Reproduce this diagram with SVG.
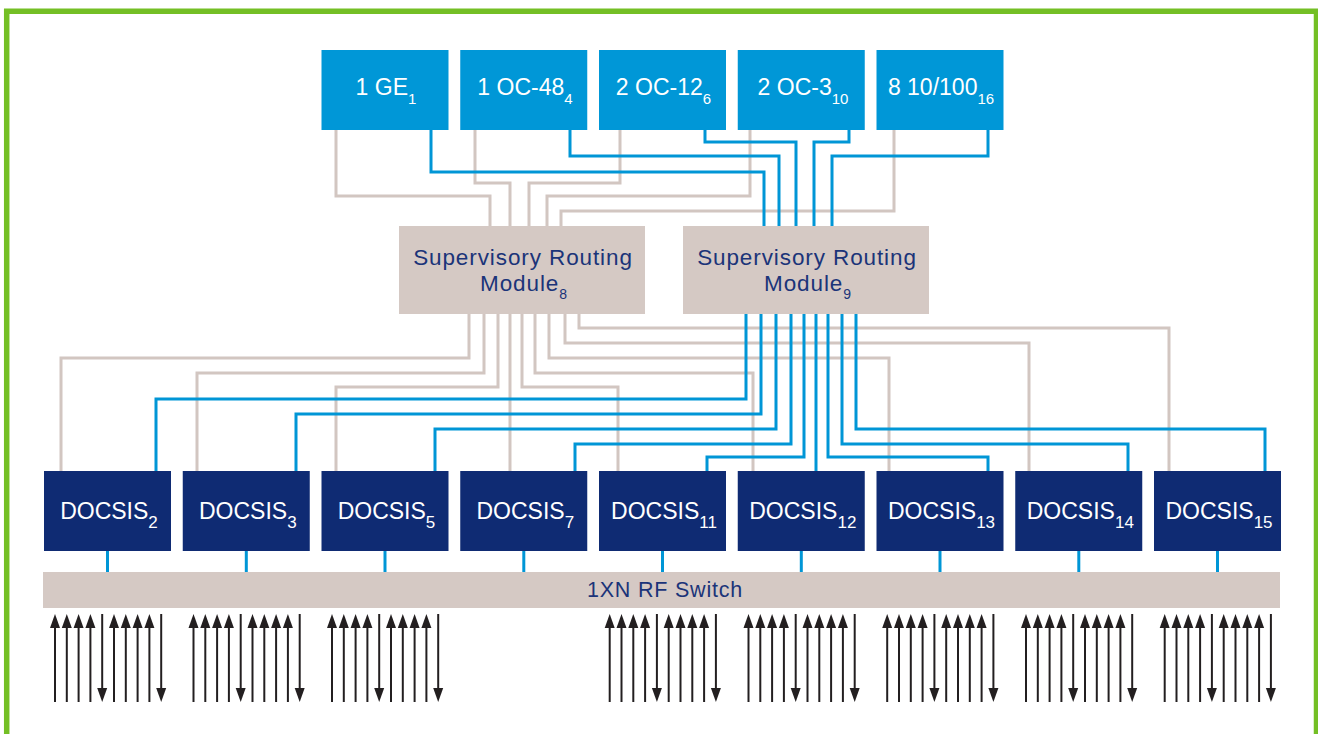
<svg xmlns="http://www.w3.org/2000/svg" xmlns:xlink="http://www.w3.org/1999/xlink" width="1318" height="734" viewBox="0 0 1318 734">
<style>
.frame{fill:none;stroke:#74bf25;stroke-width:5.5}
.top{fill:#0097d7}
.doc{fill:#0f2b73}
.beige{fill:#d5c9c4}
.wt{fill:#ffffff;font-family:"Liberation Sans",Arial,sans-serif;text-anchor:middle}
.tt{font-size:23px}
.dt{font-size:23px}
.nt{fill:#1b3479;font-family:"Liberation Sans",Arial,sans-serif;text-anchor:middle}
.st{font-size:22.5px;letter-spacing:0.9px}
.rt{font-size:21.5px;letter-spacing:0.8px}
.g{fill:none;stroke:#d2c6c1;stroke-width:3}
.b{fill:none;stroke:#0096d6;stroke-width:3}
.ar{stroke:#231f20;stroke-width:2}
.ah{fill:#231f20}
</style>
<defs>
<g id="up"><line class="ar" x1="0" y1="626" x2="0" y2="702"/><polygon class="ah" points="0,614 -5,628 5,628"/></g>
<g id="dn"><line class="ar" x1="0" y1="614" x2="0" y2="690"/><polygon class="ah" points="0,702 -5,688 5,688"/></g>
<g id="arrows">
<use xlink:href="#up" x="0"/><use xlink:href="#up" x="11.8"/><use xlink:href="#up" x="23.6"/><use xlink:href="#up" x="35.4"/><use xlink:href="#dn" x="47.2"/>
<use xlink:href="#up" x="59"/><use xlink:href="#up" x="70.8"/><use xlink:href="#up" x="82.6"/><use xlink:href="#up" x="94.4"/><use xlink:href="#dn" x="106.2"/>
</g>
</defs>
<rect width="1318" height="734" fill="#ffffff"/>
<path class="frame" d="M6.7,734 V11.2 H1316.5 V734"/>

<g id="connectors">
<g id="gray-top">
<polyline class="g" points="336,130 336,196 490,196 490,226"/>
<polyline class="g" points="475,130 475,183 510,183 510,226"/>
<polyline class="g" points="620,130 620,183 529,183 529,226"/>
<polyline class="g" points="750,130 750,196 547,196 547,226"/>
<polyline class="g" points="894,130 894,211 561,211 561,226"/>
</g>
<g id="gray-bottom">
<polyline class="g" points="469,314 469,358 61,358 61,471"/>
<polyline class="g" points="484,314 484,373 197,373 197,471"/>
<polyline class="g" points="498,314 498,387 336,387 336,471"/>
<polyline class="g" points="510,314 510,471"/>
<polyline class="g" points="522,314 522,387 618,387 618,471"/>
<polyline class="g" points="535,314 535,373 753,373 753,471"/>
<polyline class="g" points="549,314 549,358 889,358 889,471"/>
<polyline class="g" points="565,314 565,343 1029,343 1029,471"/>
<polyline class="g" points="579,314 579,328 1169,328 1169,471"/>
</g>
<g id="blue-top">
<polyline class="b" points="431,130 431,172 764,172 764,226"/>
<polyline class="b" points="570,130 570,156 779,156 779,226"/>
<polyline class="b" points="705,130 705,142 796,142 796,226"/>
<polyline class="b" points="849,130 849,142 814,142 814,226"/>
<polyline class="b" points="988,130 988,156 832,156 832,226"/>
</g>
<g id="blue-bottom">
<polyline class="b" points="746,314 746,399 156,399 156,471"/>
<polyline class="b" points="761,314 761,414 296,414 296,471"/>
<polyline class="b" points="776,314 776,429 435,429 435,471"/>
<polyline class="b" points="791,314 791,444 575,444 575,471"/>
<polyline class="b" points="804,314 804,457 707,457 707,471"/>
<polyline class="b" points="816,314 816,471"/>
<polyline class="b" points="828,314 828,457 988,457 988,471"/>
<polyline class="b" points="842,314 842,444 1128,444 1128,471"/>
<polyline class="b" points="856,314 856,429 1265,429 1265,471"/>
</g>
<g id="rf-links">
<line class="b" x1="107.5" y1="551" x2="107.5" y2="572"/>
<line class="b" x1="246.3" y1="551" x2="246.3" y2="572"/>
<line class="b" x1="385" y1="551" x2="385" y2="572"/>
<line class="b" x1="523.8" y1="551" x2="523.8" y2="572"/>
<line class="b" x1="662.5" y1="551" x2="662.5" y2="572"/>
<line class="b" x1="801.3" y1="551" x2="801.3" y2="572"/>
<line class="b" x1="940" y1="551" x2="940" y2="572"/>
<line class="b" x1="1078.8" y1="551" x2="1078.8" y2="572"/>
<line class="b" x1="1217.5" y1="551" x2="1217.5" y2="572"/>
</g>
</g>

<g id="ge1"><rect class="top" x="321.5" y="50" width="127" height="80"/><text class="wt tt" x="386" y="95">1 GE<tspan font-size="15" dy="8.5">1</tspan></text></g>
<g id="oc48"><rect class="top" x="460.25" y="50" width="127" height="80"/><text class="wt tt" x="525" y="95">1 OC-48<tspan font-size="15" dy="8.5">4</tspan></text></g>
<g id="oc12"><rect class="top" x="599" y="50" width="127" height="80"/><text class="wt tt" x="663.5" y="95">2 OC-12<tspan font-size="15" dy="8.5">6</tspan></text></g>
<g id="oc3"><rect class="top" x="737.75" y="50" width="127" height="80"/><text class="wt tt" x="803" y="95">2 OC-3<tspan font-size="15" dy="8.5">10</tspan></text></g>
<g id="fe"><rect class="top" x="876.5" y="50" width="127" height="80"/><text class="wt tt" x="941" y="95">8 10/100<tspan font-size="15" dy="8.5">16</tspan></text></g>

<g id="srm8"><rect class="beige" x="399" y="226" width="246" height="88"/><text class="nt st" x="523" y="265">Supervisory Routing</text><text class="nt st" x="524" y="290.5">Module<tspan font-size="14" dy="8.5">8</tspan></text></g>
<g id="srm9"><rect class="beige" x="683" y="226" width="246" height="88"/><text class="nt st" x="807" y="265">Supervisory Routing</text><text class="nt st" x="808" y="290.5">Module<tspan font-size="14" dy="8.5">9</tspan></text></g>

<g id="docsis2"><rect class="doc" x="44" y="471" width="127" height="80"/><text class="wt dt" x="109" y="518.5">DOCSIS<tspan font-size="17" dy="9">2</tspan></text></g>
<g id="docsis3"><rect class="doc" x="182.75" y="471" width="127" height="80"/><text class="wt dt" x="247.8" y="518.5">DOCSIS<tspan font-size="17" dy="9">3</tspan></text></g>
<g id="docsis5"><rect class="doc" x="321.5" y="471" width="127" height="80"/><text class="wt dt" x="386.5" y="518.5">DOCSIS<tspan font-size="17" dy="9">5</tspan></text></g>
<g id="docsis7"><rect class="doc" x="460.25" y="471" width="127" height="80"/><text class="wt dt" x="525.3" y="518.5">DOCSIS<tspan font-size="17" dy="9">7</tspan></text></g>
<g id="docsis11"><rect class="doc" x="599" y="471" width="127" height="80"/><text class="wt dt" x="664" y="518.5">DOCSIS<tspan font-size="17" dy="9">11</tspan></text></g>
<g id="docsis12"><rect class="doc" x="737.75" y="471" width="127" height="80"/><text class="wt dt" x="802.8" y="518.5">DOCSIS<tspan font-size="17" dy="9">12</tspan></text></g>
<g id="docsis13"><rect class="doc" x="876.5" y="471" width="127" height="80"/><text class="wt dt" x="941.5" y="518.5">DOCSIS<tspan font-size="17" dy="9">13</tspan></text></g>
<g id="docsis14"><rect class="doc" x="1015.25" y="471" width="127" height="80"/><text class="wt dt" x="1080.3" y="518.5">DOCSIS<tspan font-size="17" dy="9">14</tspan></text></g>
<g id="docsis15"><rect class="doc" x="1154" y="471" width="127" height="80"/><text class="wt dt" x="1219" y="518.5">DOCSIS<tspan font-size="17" dy="9">15</tspan></text></g>

<g id="rfswitch"><rect class="beige" x="43" y="572" width="1237" height="36"/><text class="nt rt" x="665" y="597.3">1XN RF Switch</text></g>

<g id="rf-arrows">
<use xlink:href="#arrows" x="55"/>
<use xlink:href="#arrows" x="193.5"/>
<use xlink:href="#arrows" x="332"/>
<use xlink:href="#arrows" x="609.7"/>
<use xlink:href="#arrows" x="748.5"/>
<use xlink:href="#arrows" x="887.2"/>
<use xlink:href="#arrows" x="1026"/>
<use xlink:href="#arrows" x="1164.7"/>
</g>
</svg>
